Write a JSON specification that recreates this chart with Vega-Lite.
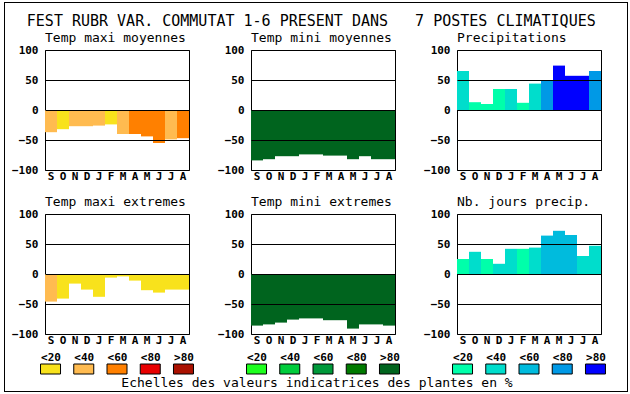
{
  "$schema": "https://vega.github.io/schema/vega-lite/v6.json",
  "padding": {"left": 4, "top": 2, "right": 2, "bottom": 1},
  "background": "white",
  "config": {
    "view": {"stroke": "black", "strokeWidth": 1},
    "axis": {"labelFont": "DejaVu Sans Mono", "labelFontWeight": "bold", "labelFontSize": 11, "labelColor": "black"}
  },
  "datasets": {
    "panels": [
      {"panel": "Temp maxi moyennes", "month": "Sep", "value": -37, "cls": "T<40"},
      {"panel": "Temp maxi moyennes", "month": "Oct", "value": -32, "cls": "T<20"},
      {"panel": "Temp maxi moyennes", "month": "Nov", "value": -27, "cls": "T<40"},
      {"panel": "Temp maxi moyennes", "month": "Dec", "value": -27, "cls": "T<40"},
      {"panel": "Temp maxi moyennes", "month": "Jan", "value": -26, "cls": "T<40"},
      {"panel": "Temp maxi moyennes", "month": "Feb", "value": -24, "cls": "T<20"},
      {"panel": "Temp maxi moyennes", "month": "Mar", "value": -40, "cls": "T<40"},
      {"panel": "Temp maxi moyennes", "month": "Apr", "value": -40, "cls": "T<60"},
      {"panel": "Temp maxi moyennes", "month": "May", "value": -44, "cls": "T<60"},
      {"panel": "Temp maxi moyennes", "month": "Jun", "value": -55, "cls": "T<60"},
      {"panel": "Temp maxi moyennes", "month": "Jul", "value": -49, "cls": "T<40"},
      {"panel": "Temp maxi moyennes", "month": "Aug", "value": -47, "cls": "T<60"},
      {"panel": "Temp mini moyennes", "month": "Sep", "value": -84, "cls": "G>80"},
      {"panel": "Temp mini moyennes", "month": "Oct", "value": -82, "cls": "G>80"},
      {"panel": "Temp mini moyennes", "month": "Nov", "value": -77, "cls": "G>80"},
      {"panel": "Temp mini moyennes", "month": "Dec", "value": -77, "cls": "G>80"},
      {"panel": "Temp mini moyennes", "month": "Jan", "value": -74, "cls": "G>80"},
      {"panel": "Temp mini moyennes", "month": "Feb", "value": -74, "cls": "G>80"},
      {"panel": "Temp mini moyennes", "month": "Mar", "value": -76, "cls": "G>80"},
      {"panel": "Temp mini moyennes", "month": "Apr", "value": -76, "cls": "G>80"},
      {"panel": "Temp mini moyennes", "month": "May", "value": -82, "cls": "G>80"},
      {"panel": "Temp mini moyennes", "month": "Jun", "value": -77, "cls": "G>80"},
      {"panel": "Temp mini moyennes", "month": "Jul", "value": -82, "cls": "G>80"},
      {"panel": "Temp mini moyennes", "month": "Aug", "value": -82, "cls": "G>80"},
      {"panel": "Precipitations", "month": "Sep", "value": 65, "cls": "B<40"},
      {"panel": "Precipitations", "month": "Oct", "value": 13, "cls": "B<20"},
      {"panel": "Precipitations", "month": "Nov", "value": 10, "cls": "B<20"},
      {"panel": "Precipitations", "month": "Dec", "value": 35, "cls": "B<20"},
      {"panel": "Precipitations", "month": "Jan", "value": 35, "cls": "B<40"},
      {"panel": "Precipitations", "month": "Feb", "value": 12, "cls": "B<20"},
      {"panel": "Precipitations", "month": "Mar", "value": 44, "cls": "B<40"},
      {"panel": "Precipitations", "month": "Apr", "value": 49, "cls": "B<80"},
      {"panel": "Precipitations", "month": "May", "value": 74, "cls": "B>80"},
      {"panel": "Precipitations", "month": "Jun", "value": 57, "cls": "B>80"},
      {"panel": "Precipitations", "month": "Jul", "value": 57, "cls": "B>80"},
      {"panel": "Precipitations", "month": "Aug", "value": 65, "cls": "B<80"},
      {"panel": "Temp maxi extremes", "month": "Sep", "value": -46, "cls": "T<40"},
      {"panel": "Temp maxi extremes", "month": "Oct", "value": -41, "cls": "T<20"},
      {"panel": "Temp maxi extremes", "month": "Nov", "value": -16, "cls": "T<20"},
      {"panel": "Temp maxi extremes", "month": "Dec", "value": -26, "cls": "T<20"},
      {"panel": "Temp maxi extremes", "month": "Jan", "value": -38, "cls": "T<20"},
      {"panel": "Temp maxi extremes", "month": "Feb", "value": -6, "cls": "T<20"},
      {"panel": "Temp maxi extremes", "month": "Mar", "value": -4, "cls": "T<20"},
      {"panel": "Temp maxi extremes", "month": "Apr", "value": -11, "cls": "T<20"},
      {"panel": "Temp maxi extremes", "month": "May", "value": -27, "cls": "T<20"},
      {"panel": "Temp maxi extremes", "month": "Jun", "value": -31, "cls": "T<20"},
      {"panel": "Temp maxi extremes", "month": "Jul", "value": -26, "cls": "T<20"},
      {"panel": "Temp maxi extremes", "month": "Aug", "value": -26, "cls": "T<20"},
      {"panel": "Temp mini extremes", "month": "Sep", "value": -86, "cls": "G>80"},
      {"panel": "Temp mini extremes", "month": "Oct", "value": -84, "cls": "G>80"},
      {"panel": "Temp mini extremes", "month": "Nov", "value": -81, "cls": "G>80"},
      {"panel": "Temp mini extremes", "month": "Dec", "value": -76, "cls": "G>80"},
      {"panel": "Temp mini extremes", "month": "Jan", "value": -74, "cls": "G>80"},
      {"panel": "Temp mini extremes", "month": "Feb", "value": -74, "cls": "G>80"},
      {"panel": "Temp mini extremes", "month": "Mar", "value": -77, "cls": "G>80"},
      {"panel": "Temp mini extremes", "month": "Apr", "value": -77, "cls": "G>80"},
      {"panel": "Temp mini extremes", "month": "May", "value": -91, "cls": "G>80"},
      {"panel": "Temp mini extremes", "month": "Jun", "value": -84, "cls": "G>80"},
      {"panel": "Temp mini extremes", "month": "Jul", "value": -84, "cls": "G>80"},
      {"panel": "Temp mini extremes", "month": "Aug", "value": -86, "cls": "G>80"},
      {"panel": "Nb. jours precip.", "month": "Sep", "value": 25, "cls": "B<20"},
      {"panel": "Nb. jours precip.", "month": "Oct", "value": 37, "cls": "B<40"},
      {"panel": "Nb. jours precip.", "month": "Nov", "value": 25, "cls": "B<20"},
      {"panel": "Nb. jours precip.", "month": "Dec", "value": 17, "cls": "B<40"},
      {"panel": "Nb. jours precip.", "month": "Jan", "value": 42, "cls": "B<40"},
      {"panel": "Nb. jours precip.", "month": "Feb", "value": 42, "cls": "B<20"},
      {"panel": "Nb. jours precip.", "month": "Mar", "value": 44, "cls": "B<40"},
      {"panel": "Nb. jours precip.", "month": "Apr", "value": 64, "cls": "B<60"},
      {"panel": "Nb. jours precip.", "month": "May", "value": 72, "cls": "B<60"},
      {"panel": "Nb. jours precip.", "month": "Jun", "value": 65, "cls": "B<60"},
      {"panel": "Nb. jours precip.", "month": "Jul", "value": 30, "cls": "B<40"},
      {"panel": "Nb. jours precip.", "month": "Aug", "value": 47, "cls": "B<40"}
    ],
    "legend": [
      {"grp": "T", "cls": "T<20"}, {"grp": "T", "cls": "T<40"}, {"grp": "T", "cls": "T<60"}, {"grp": "T", "cls": "T<80"}, {"grp": "T", "cls": "T>80"},
      {"grp": "G", "cls": "G<20"}, {"grp": "G", "cls": "G<40"}, {"grp": "G", "cls": "G<60"}, {"grp": "G", "cls": "G<80"}, {"grp": "G", "cls": "G>80"},
      {"grp": "B", "cls": "B<20"}, {"grp": "B", "cls": "B<40"}, {"grp": "B", "cls": "B<60"}, {"grp": "B", "cls": "B<80"}, {"grp": "B", "cls": "B>80"}
    ],
    "empty": []
  },
  "spacing": 0,
  "vconcat": [
    {
      "data": {"name": "empty"},
      "width": 624,
      "height": 1,
      "view": {"stroke": null, "fill": "black"},
      "mark": "point"
    },
    {
      "spacing": 6,
      "hconcat": [
        {
          "data": {"name": "empty"},
          "width": 1,
          "height": 388,
          "view": {"stroke": null, "fill": "black"},
          "mark": "point"
        },
        {
          "spacing": 5,
          "vconcat": [
            {
              "data": {"name": "empty"},
              "width": 576,
              "height": 5,
              "view": {"stroke": null},
              "mark": "point"
            },
            {
              "data": {"name": "panels"},
              "title": {"text": "FEST RUBR VAR. COMMUTAT 1-6 PRESENT DANS\u00a0\u00a0\u00a07 POSTES CLIMATIQUES", "font": "DejaVu Sans Mono", "fontSize": 15, "fontWeight": "normal", "color": "black", "anchor": "middle", "offset": 3, "dx": 5},
              "facet": {"field": "panel", "type": "nominal", "sort": ["Temp maxi moyennes", "Temp mini moyennes", "Precipitations", "Temp maxi extremes", "Temp mini extremes", "Nb. jours precip."], "header": {"title": null, "labelFont": "DejaVu Sans Mono", "labelFontSize": 13, "labelColor": "black", "labelPadding": -1, "labelAnchor": "start", "labelAlign": "left"}},
              "columns": 3,
              "spacing": {"row": 13, "column": 27},
              "resolve": {"axis": {"x": "independent", "y": "independent"}},
              "spec": {
                "width": 144,
                "height": 120,
                "mark": {"type": "bar"},
                "encoding": {
                  "x": {"field": "month", "type": "nominal", "sort": ["Sep", "Oct", "Nov", "Dec", "Jan", "Feb", "Mar", "Apr", "May", "Jun", "Jul", "Aug"], "scale": {"paddingInner": 0, "paddingOuter": 0}, "axis": {"title": null, "labelAngle": 0, "labelExpr": "slice(datum.label, 0, 1)", "ticks": false, "domain": false, "labelPadding": 0}},
                  "y": {"field": "value", "type": "quantitative", "stack": null, "scale": {"domain": [-100, 100], "nice": false}, "axis": {"title": null, "values": [-100, -50, 0, 50, 100], "ticks": false, "domain": false, "labelPadding": 7, "grid": true, "gridColor": "black", "gridOpacity": 1, "gridWidth": 1, "zindex": 1}},
                  "color": {"field": "cls", "type": "nominal", "scale": {"domain": ["T<20", "T<40", "T<60", "T<80", "T>80", "G<20", "G<40", "G<60", "G<80", "G>80", "B<20", "B<40", "B<60", "B<80", "B>80"], "range": ["#F8E21C", "#FFBB50", "#FF8000", "#E80000", "#AA1100", "#1EFF1E", "#00CC3C", "#00993A", "#007A00", "#00641E", "#00FFAA", "#00DDCC", "#00BBDD", "#0099E6", "#0000FF"]}, "legend": null}
                }
              }
            },
            {
              "spacing": 62,
              "bounds": "flush",
              "title": {"text": "Echelles des valeurs indicatrices des plantes en %", "orient": "bottom", "anchor": "middle", "font": "DejaVu Sans Mono", "fontSize": 13, "fontWeight": "normal", "color": "black", "offset": 2, "dx": -6},
              "hconcat": [
                {
                  "data": {"name": "legend"},
                  "transform": [{"filter": "datum.grp == 'T'"}],
                  "width": 144, "height": 10,
                  "view": {"stroke": null},
                  "mark": {"type": "bar", "stroke": "black", "strokeWidth": 1, "width": 20},
                  "encoding": {
                    "x": {"field": "cls", "type": "ordinal", "sort": ["T<20", "T<40", "T<60", "T<80", "T>80"], "scale": {"type": "point", "padding": 0.166, "align": 0.5}, "axis": {"orient": "top", "title": null, "labelAngle": 0, "labelExpr": "slice(datum.label, 1)", "ticks": false, "domain": false, "grid": false, "labelPadding": 2}},
                    "color": {"field": "cls", "type": "nominal", "scale": {"domain": ["T<20", "T<40", "T<60", "T<80", "T>80", "G<20", "G<40", "G<60", "G<80", "G>80", "B<20", "B<40", "B<60", "B<80", "B>80"], "range": ["#F8E21C", "#FFBB50", "#FF8000", "#E80000", "#AA1100", "#1EFF1E", "#00CC3C", "#00993A", "#007A00", "#00641E", "#00FFAA", "#00DDCC", "#00BBDD", "#0099E6", "#0000FF"]}, "legend": null}
                  }
                },
                {
                  "data": {"name": "legend"},
                  "transform": [{"filter": "datum.grp == 'G'"}],
                  "width": 144, "height": 10,
                  "view": {"stroke": null},
                  "mark": {"type": "bar", "stroke": "black", "strokeWidth": 1, "width": 20},
                  "encoding": {
                    "x": {"field": "cls", "type": "ordinal", "sort": ["G<20", "G<40", "G<60", "G<80", "G>80"], "scale": {"type": "point", "padding": 0.166, "align": 0.5}, "axis": {"orient": "top", "title": null, "labelAngle": 0, "labelExpr": "slice(datum.label, 1)", "ticks": false, "domain": false, "grid": false, "labelPadding": 2}},
                    "color": {"field": "cls", "type": "nominal", "scale": {"domain": ["T<20", "T<40", "T<60", "T<80", "T>80", "G<20", "G<40", "G<60", "G<80", "G>80", "B<20", "B<40", "B<60", "B<80", "B>80"], "range": ["#F8E21C", "#FFBB50", "#FF8000", "#E80000", "#AA1100", "#1EFF1E", "#00CC3C", "#00993A", "#007A00", "#00641E", "#00FFAA", "#00DDCC", "#00BBDD", "#0099E6", "#0000FF"]}, "legend": null}
                  }
                },
                {
                  "data": {"name": "legend"},
                  "transform": [{"filter": "datum.grp == 'B'"}],
                  "width": 144, "height": 10,
                  "view": {"stroke": null},
                  "mark": {"type": "bar", "stroke": "black", "strokeWidth": 1, "width": 20},
                  "encoding": {
                    "x": {"field": "cls", "type": "ordinal", "sort": ["B<20", "B<40", "B<60", "B<80", "B>80"], "scale": {"type": "point", "padding": 0.166, "align": 0.5}, "axis": {"orient": "top", "title": null, "labelAngle": 0, "labelExpr": "slice(datum.label, 1)", "ticks": false, "domain": false, "grid": false, "labelPadding": 2}},
                    "color": {"field": "cls", "type": "nominal", "scale": {"domain": ["T<20", "T<40", "T<60", "T<80", "T>80", "G<20", "G<40", "G<60", "G<80", "G>80", "B<20", "B<40", "B<60", "B<80", "B>80"], "range": ["#F8E21C", "#FFBB50", "#FF8000", "#E80000", "#AA1100", "#1EFF1E", "#00CC3C", "#00993A", "#007A00", "#00641E", "#00FFAA", "#00DDCC", "#00BBDD", "#0099E6", "#0000FF"]}, "legend": null}
                  }
                }
              ]
            }
          ]
        },
        {
          "data": {"name": "empty"},
          "width": 1,
          "height": 388,
          "view": {"stroke": null, "fill": "black"},
          "mark": "point"
        }
      ]
    },
    {
      "data": {"name": "empty"},
      "width": 624,
      "height": 1,
      "view": {"stroke": null, "fill": "black"},
      "mark": "point"
    }
  ]
}
